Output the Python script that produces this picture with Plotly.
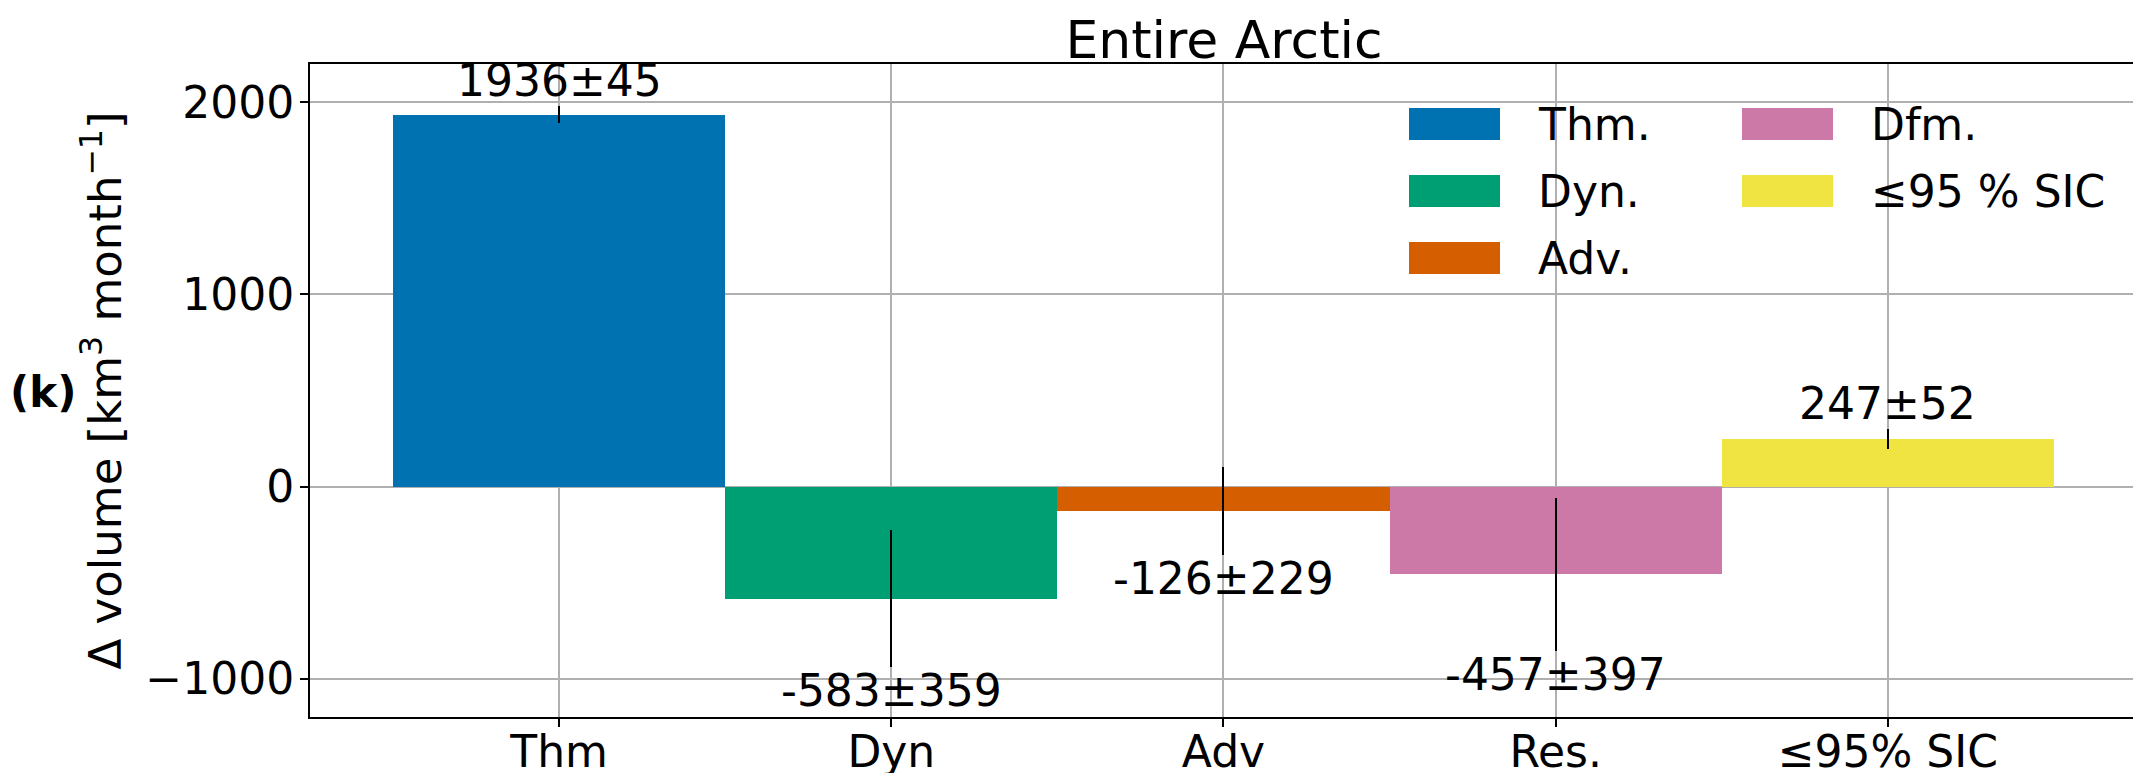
import plotly.graph_objects as go

categories = ["Thm", "Dyn", "Adv", "Res.", "≤95% SIC"]
values = [1936, -583, -126, -457, 247]
errors = [45, 359, 229, 397, 52]
colors = ["#0072B2", "#009E73", "#D55E00", "#CC79A7", "#F0E442"]
legend_labels = ["Thm.", "Dyn.", "Adv.", "Dfm.", "≤95 % SIC"]
y_ticks = [-1000, 0, 1000, 2000]

FONT = "DejaVu Sans"
W, H = 2133, 773
ML, MR, MT, MB = 310, 0, 64, 56
PW, PH = W - ML - MR, H - MT - MB

def px_x(p):
    return (p - ML) / PW

def px_y(p):
    return (H - MB - p) / PH

fig = go.Figure()
fig.add_trace(go.Bar(
    x=categories, y=values, width=1.0,
    marker=dict(color=colors, line=dict(width=0)),
    error_y=dict(type="data", array=errors, color="black", thickness=2, width=0),
    showlegend=False,
))

annotations = []
for c, v, e in zip(categories, values, errors):
    if v >= 0:
        annotations.append(dict(x=c, y=v + e, xref="x", yref="y", text=f"{v}±{e}",
                                showarrow=False, yanchor="bottom", xanchor="center",
                                yshift=-2, font=dict(family=FONT, size=44, color="black")))
    else:
        annotations.append(dict(x=c, y=v - e, xref="x", yref="y", text=f"{v}±{e}",
                                showarrow=False, yanchor="top", xanchor="center",
                                yshift=4, font=dict(family=FONT, size=44, color="black")))

# panel label
annotations.append(dict(x=px_x(43), y=px_y(392), xref="paper", yref="paper", text="<b>(k)</b>",
                        showarrow=False, xanchor="center", yanchor="middle",
                        font=dict(family=FONT, size=42, color="black")))

# custom legend (two columns, column-major)
shapes = []
col_x = [1409, 1742]
row_y = [108, 175, 242]
for i, (lab, col) in enumerate(zip(legend_labels, colors)):
    ci, ri = divmod(i, 3)
    x0 = col_x[ci]
    y0 = row_y[ri]
    shapes.append(dict(type="rect", xref="paper", yref="paper",
                       x0=px_x(x0), x1=px_x(x0 + 91), y0=px_y(y0 + 32), y1=px_y(y0),
                       fillcolor=col, line=dict(width=0), layer="above"))
    annotations.append(dict(x=px_x(x0 + 127), y=px_y(y0 + 16), xref="paper", yref="paper",
                            text=lab, showarrow=False, xanchor="left", yanchor="middle",
                            font=dict(family=FONT, size=44, color="black")))

fig.update_layout(
    width=W, height=H,
    margin=dict(l=ML, r=MR, t=MT, b=MB, autoexpand=False),
    paper_bgcolor="white", plot_bgcolor="white",
    font=dict(family=FONT, size=44, color="black"),
    title=dict(text="Entire Arctic", x=1224 / W, xref="container", xanchor="center",
               y=1 - 58 / H, yanchor="bottom", yref="container", automargin=False,
               font=dict(family=FONT, size=52, color="black")),
    bargap=0,
    showlegend=False,
    annotations=annotations,
    shapes=shapes,
)

fig.update_xaxes(
    type="category", range=[-0.75, 4.738], automargin=False,
    showgrid=True, gridcolor="#b0b0b0", gridwidth=2,
    showline=True, linecolor="black", linewidth=2, mirror=True,
    ticks="outside", ticklen=8, tickwidth=2, tickcolor="black",
    ticklabelstandoff=-13,
    tickfont=dict(family=FONT, size=44, color="black"),
    zeroline=False,
)
fig.update_yaxes(
    range=[-1200, 2200], tickvals=y_ticks, automargin=False,
    showgrid=True, gridcolor="#b0b0b0", gridwidth=2,
    showline=True, linecolor="black", linewidth=2,
    ticks="outside", ticklen=8, tickwidth=2, tickcolor="black",
    ticklabelstandoff=-3,
    tickfont=dict(family=FONT, size=44, color="black"),
    zeroline=False,
    title=dict(text="Δ volume [km<sup>3</sup> month<sup>−1</sup>]", standoff=10,
               font=dict(family=FONT, size=45, color="black")),
)

fig.write_html("out.html", config={"displayModeBar": False},
               post_script="document.body.style.margin='0';")
